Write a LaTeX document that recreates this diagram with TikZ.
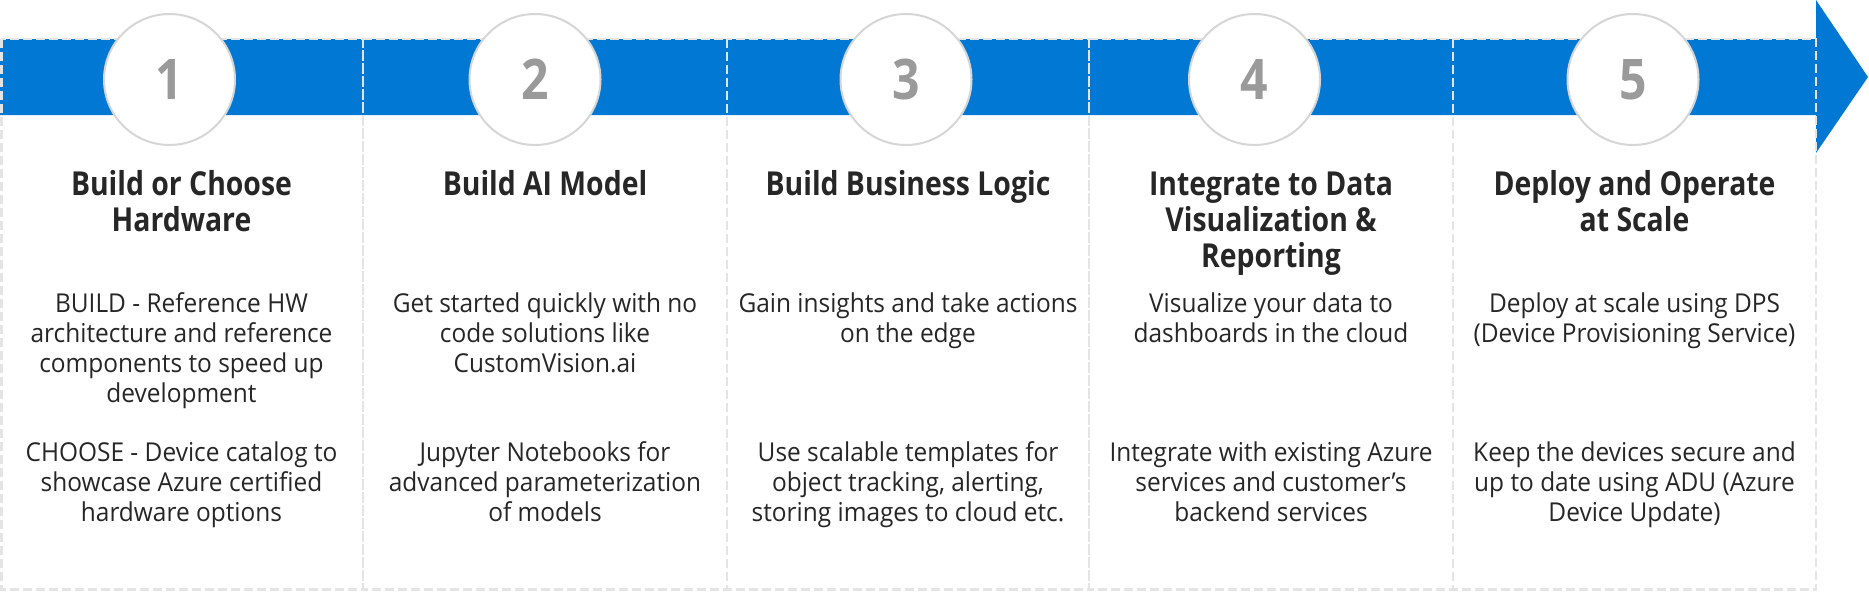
\documentclass[tikz,border=0pt]{standalone}
\usepackage{fontspec}
\setmainfont{Open Sans}[FakeStretch=0.94]
\newfontfamily\headfont{Open Sans}[BoldFeatures={FakeStretch=0.86}]
\definecolor{azureblue}{HTML}{0078D4}
\definecolor{boxline}{HTML}{E4E4E4}
\definecolor{ringline}{HTML}{D6D6D6}
\definecolor{numgray}{HTML}{9A9A9A}
\definecolor{ink}{HTML}{262626}

\begin{document}
\begin{tikzpicture}[x=0.5pt, y=-0.5pt,
  every node/.style = {align=center, text=ink, inner sep=0pt},
  title/.style = {anchor=base, font=\headfont\fontsize{16.5}{18}\selectfont\bfseries},
  body/.style = {anchor=base, font=\fontsize{13}{15}\selectfont},
  stepcircle/.style = {circle, draw=ringline, line width=1pt, fill=white,
    minimum size=65.5pt, text=numgray,
    font=\headfont\fontsize{28}{28}\selectfont\bfseries},
  column/.style = {draw=boxline, line width=1.3pt,
    dash pattern=on 4.5pt off 2pt}]
    \useasboundingbox (0,0) rectangle (1869,591);

    % the big arrow
    \fill[azureblue] (0,39) -- (1816,39) -- (1816,0) -- (1868,77)
      -- (1816,153) -- (1816,115) -- (0,115) -- cycle;

    % dashed columns
    \draw[column] (1.3,39) rectangle (363,589.5);
    \draw[column] (363,39) rectangle (727,589.5);
    \draw[column] (727,39) rectangle (1089,589.5);
    \draw[column] (1089,39) rectangle (1453,589.5);
    \draw[column] (1453,39) rectangle (1816,589.5);

    % texts sit on the baseline of their last line
    \begin{scope}[shift={(181.5,0)}]
        \node[stepcircle] (N1) at (-12,79.5) {1};
        \node[title] (H1) at (0,231) {Build or Choose\\Hardware};
        \node[body] (A1) at (0,402) {BUILD - Reference HW\\architecture and reference\\components to speed up\\development};
        \node[body] (B1) at (0,521) {CHOOSE - Device catalog to\\showcase Azure certified\\hardware options};
    \end{scope}

    \begin{scope}[shift={(545,0)}]
        \node[stepcircle] (N2) at (-10,79.5) {2};
        \node[title] (H2) at (0,195) {Build AI Model};
        \node[body] (A2) at (0,372) {Get started quickly with no\\code solutions like\\CustomVision.ai};
        \node[body] (B2) at (0,521) {Jupyter Notebooks for\\advanced parameterization\\of models};
    \end{scope}

    \begin{scope}[shift={(908,0)}]
        \node[stepcircle] (N3) at (-2,79.5) {3};
        \node[title] (H3) at (0,195) {Build Business Logic};
        \node[body] (A3) at (0,342) {Gain insights and take actions\\on the edge};
        \node[body] (B3) at (0,521) {Use scalable templates for\\object tracking, alerting,\\storing images to cloud etc.};
    \end{scope}

    \begin{scope}[shift={(1271,0)}]
        \node[stepcircle] (N4) at (-16.5,79.5) {4};
        \node[title] (H4) at (0,267) {Integrate to Data\\Visualization \&\\Reporting};
        \node[body] (A4) at (0,342) {Visualize your data to\\dashboards in the cloud};
        \node[body] (B4) at (0,521) {Integrate with existing Azure\\services and customer’s\\backend services};
    \end{scope}

    \begin{scope}[shift={(1634.5,0)}]
        \node[stepcircle] (N5) at (-1.5,79.5) {5};
        \node[title] (H5) at (0,231) {Deploy and Operate\\at Scale};
        \node[body] (A5) at (0,342) {Deploy at scale using DPS\\(Device Provisioning Service)};
        \node[body] (B5) at (0,521) {Keep the devices secure and\\up to date using ADU (Azure\\Device Update)};
    \end{scope}
\end{tikzpicture}
\end{document}
